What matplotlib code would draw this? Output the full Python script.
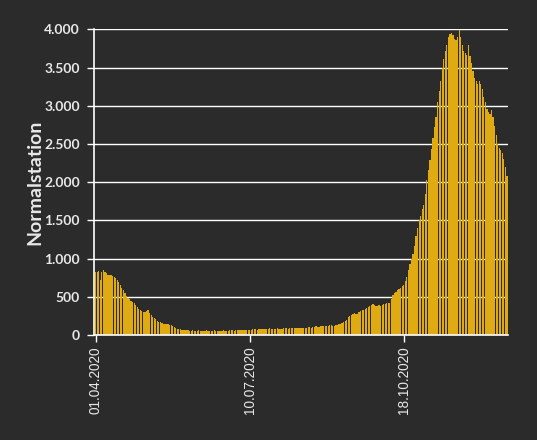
import matplotlib
matplotlib.use("Agg")
import matplotlib.pyplot as plt
import matplotlib.dates as mdates
from matplotlib.ticker import FuncFormatter
import pandas as pd

# daily occupancy (01.04.2020 onwards)
values = [
    830, 830, 835, 720, 830, 852, 820, 810, 790, 785, 780,
    770, 760, 745, 720, 690, 655, 615, 585, 550, 515,
    490, 468, 450, 430, 415, 390, 370, 345, 330, 315,
    305, 300, 310, 325, 285, 262, 240, 222, 205, 190,
    175, 165, 155, 150, 145, 144, 140, 135, 125, 112,
    100, 90, 85, 80, 75, 68, 65, 63, 62, 60,
    58, 57, 60, 56, 55, 58, 60, 57, 55, 56,
    58, 60, 59, 56, 54, 57, 60, 58, 56, 55,
    57, 59, 61, 58, 56, 57, 60, 62, 60, 58,
    60, 63, 65, 62, 60, 64, 67, 70, 68, 66,
    70, 74, 76, 73, 72, 76, 80, 82, 79, 77,
    80, 84, 86, 83, 80, 82, 85, 88, 84, 82,
    84, 87, 90, 86, 84, 86, 89, 92, 88, 86,
    89, 93, 96, 92, 90, 94, 98, 102, 99, 97,
    105, 110, 114, 110, 108, 114, 118, 122, 118, 116,
    120, 125, 128, 124, 122, 126, 135, 145, 150, 160,
    175, 190, 200, 240, 250, 262, 270, 284, 275, 280,
    300, 315, 330, 330, 340, 350, 365, 375, 395, 400,
    390, 375, 380, 390, 385, 395, 400, 405, 415, 420,
    425, 470, 520, 545, 565, 585, 600, 620, 640, 660,
    710, 765, 850, 930, 990, 1060, 1170, 1290, 1400, 1500,
    1560, 1650, 1700, 1850, 2030, 2160, 2290, 2430, 2580, 2720,
    2850, 3050, 3200, 3330, 3500, 3620, 3720, 3800, 3900, 3940,
    3955, 3930, 3880, 3860, 3900, 3990, 3900, 3800, 3720, 3690,
    3660, 3800, 3650, 3560, 3460, 3370, 3320, 3280, 3320, 3290,
    3220, 3120, 3050, 2960, 2920, 2900, 2950, 2850, 2730, 2620,
    2500, 2450, 2420, 2380, 2300, 2200, 2080,
]
dates = pd.date_range("2020-04-01", periods=len(values), freq="D")
y_ticks = [0, 500, 1000, 1500, 2000, 2500, 3000, 3500, 4000]
y_label = "Normalstation"

bg = "#2b2b2b"
bar_color = "#e0aa12"
text_color = "#e8e8e8"

fig = plt.figure(figsize=(5.37, 4.40), dpi=100, facecolor=bg)
ax = fig.add_axes([0.175, 0.2386, 0.771, 0.6944], facecolor=bg)

x = mdates.date2num(dates)
ax.bar(x, values, width=0.8, color=bar_color, linewidth=0, zorder=3)

ax.set_ylim(0, 4000)
ax.set_xlim(x[0] - 1.1, x[-1] + 0.7)
ax.set_yticks(y_ticks)
ax.yaxis.set_major_formatter(FuncFormatter(lambda v, p: f"{int(v):,}".replace(",", ".")))
ax.set_xticks(x[::100])
ax.set_xticklabels([d.strftime("%d.%m.%Y") for d in dates[::100]], rotation=90)

# grid sits behind the bars, so it only shows through the gaps
ax.grid(axis="y", color="white", linewidth=1, zorder=1)
ax.set_axisbelow(True)

for side in ["top", "right"]:
    ax.spines[side].set_visible(False)
for side in ["left", "bottom"]:
    ax.spines[side].set_color("white")
    ax.spines[side].set_linewidth(1.2)
    ax.spines[side].set_zorder(4)

ax.tick_params(colors="white", length=5, width=1)
ax.tick_params(axis="y", pad=5)
for lab in ax.get_yticklabels():
    lab.set_color(text_color)
    lab.set_fontsize(10)
    lab.set_fontfamily("Lato")
    lab.set_fontweight("bold")
for lab in ax.get_xticklabels():
    lab.set_color(text_color)
    lab.set_fontsize(9.8)
    lab.set_fontfamily("Liberation Sans")

ax.set_ylabel(y_label, color=text_color, fontsize=14, fontweight="bold",
              fontfamily="Lato", labelpad=1)

fig.savefig("out.png", dpi=100, facecolor=bg)
